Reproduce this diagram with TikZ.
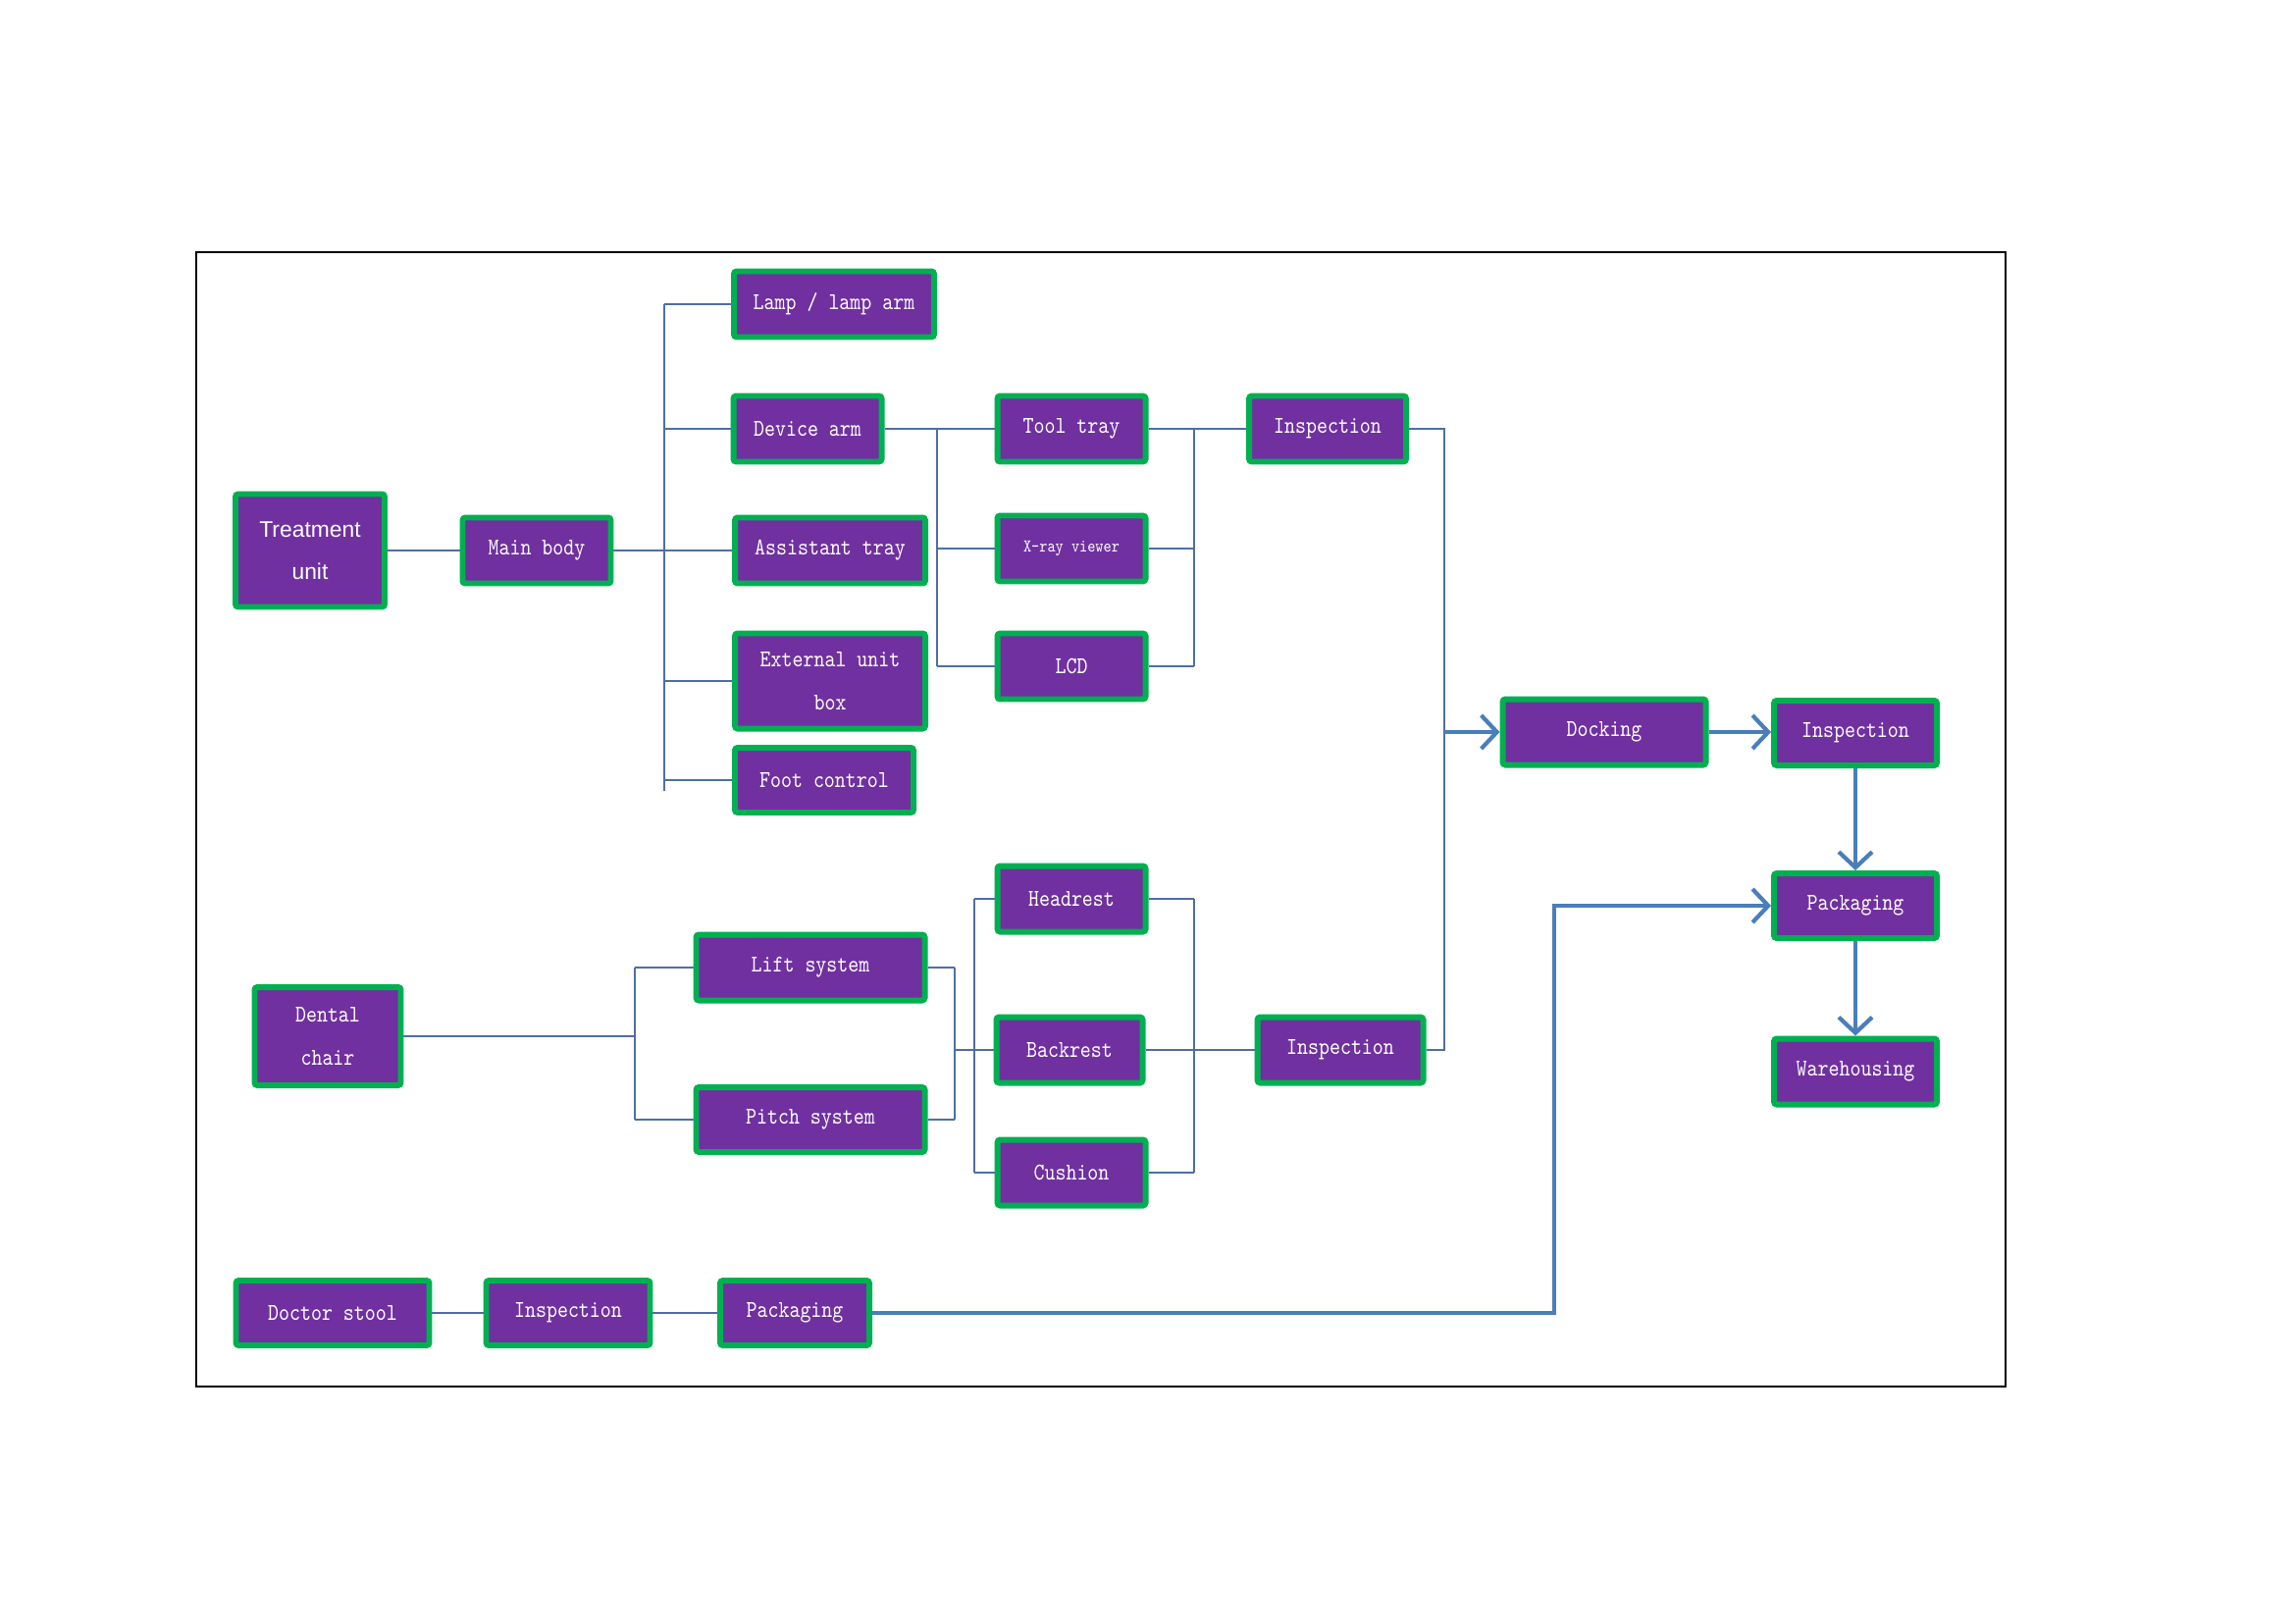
\documentclass[tikz,border=0pt]{standalone}
\usepackage{fontspec}
\newfontfamily\boxfont[FakeStretch=0.85]{lmmono10-regular.otf}
\newfontfamily\sansbox{Liberation Sans}
\usetikzlibrary{arrows.meta}
\definecolor{boxpurple}{RGB}{112,48,160}
\definecolor{boxgreen}{RGB}{0,176,80}
\definecolor{linkblue}{RGB}{79,110,165}
\definecolor{flowblue}{RGB}{74,126,187}

\begin{document}
\begin{tikzpicture}[
  box/.style={draw=boxgreen, fill=boxpurple, line width=1.7pt, rounded corners=0.8pt, text=white, inner sep=0pt, align=center, minimum width=1.51cm, minimum height=0.67cm, font=\boxfont\fontsize{7}{12.3}\selectfont},
  sz/.style 2 args={minimum width=#1cm, minimum height=#2cm},
  link/.style={draw=linkblue, line width=0.6pt},
  flow/.style={draw=flowblue, line width=1.2pt, -{Straight Barb[length=1.6mm, width=3.4mm]}}
]
\useasboundingbox (0,0) rectangle (23.39,-16.54);
\draw[line width=0.4pt] (2.00,-2.57) rectangle (20.44,-14.13);

\node[box, sz={1.52}{1.15}, font=\sansbox\fontsize{6.5}{12.3}\selectfont] (treat) at (3.16,-5.61) {Treatment\\unit};
\node[box] (main) at (5.47,-5.61) {Main body};
\node[box, sz={2.04}{0.67}] (lamp) at (8.50,-3.10) {Lamp / lamp arm};
\node[box] (devarm) at (8.23,-4.37) {Device arm};
\node[box, sz={1.94}{0.67}] (asst) at (8.46,-5.61) {Assistant tray};
\node[box, sz={1.94}{0.97}] (extbox) at (8.46,-6.94) {External unit\\box};
\node[box, sz={1.82}{0.66}] (foot) at (8.40,-7.95) {Foot control};
\node[box] (tool) at (10.92,-4.37) {Tool tray};
\node[box, font=\boxfont\fontsize{5.2}{6}\selectfont] (xray) at (10.92,-5.59) {X-ray viewer};
\node[box] (lcd) at (10.92,-6.79) {LCD};
\node[box, sz={1.60}{0.67}] (insp1) at (13.53,-4.37) {Inspection};
\node[box, sz={2.07}{0.67}] (dock) at (16.35,-7.46) {Docking};
\node[box, sz={1.66}{0.66}] (insp2) at (18.91,-7.47) {Inspection};
\node[box, sz={1.66}{0.66}] (pack2) at (18.91,-9.23) {Packaging};
\node[box, sz={1.66}{0.67}] (ware) at (18.91,-10.92) {Warehousing};

\node[box, sz={1.49}{1.00}] (chair) at (3.34,-10.56) {Dental\\chair};
\node[box, sz={2.33}{0.67}] (lift) at (8.26,-9.86) {Lift system};
\node[box, sz={2.33}{0.66}] (pitch) at (8.26,-11.41) {Pitch system};
\node[box] (head) at (10.92,-9.16) {Headrest};
\node[box, sz={1.49}{0.67}] (back) at (10.90,-10.70) {Backrest};
\node[box] (cush) at (10.92,-11.95) {Cushion};
\node[box, sz={1.69}{0.67}] (insp3) at (13.66,-10.70) {Inspection};

\node[box, sz={1.97}{0.66}] (stool) at (3.39,-13.38) {Doctor stool};
\node[box, sz={1.67}{0.66}] (insp4) at (5.79,-13.38) {Inspection};
\node[box, sz={1.52}{0.66}] (pack1) at (8.10,-13.38) {Packaging};

\coordinate (trunk) at (6.77,-5.61);
\coordinate (trunkend) at (6.77,-8.06);
\draw[link] (treat.east) -- (main.west);
\draw[link] (main.east) -- (trunk);
\draw[link] (trunk |- lamp.west) -- (trunkend);
\foreach \n in {lamp,devarm,asst,extbox,foot} \draw[link] (trunk |- \n.west) -- (\n.west);

\coordinate (dbus) at (9.55,-4.37);
\draw[link] (devarm.east) -- (tool.west);
\draw[link] (dbus) -- (dbus |- lcd.west);
\foreach \n in {xray,lcd} \draw[link] (dbus |- \n.west) -- (\n.west);

\coordinate (tbus) at (12.17,-4.37);
\foreach \n in {tool,xray,lcd} \draw[link] (\n.east) -- (tbus |- \n.east);
\draw[link] (tbus) -- (tbus |- lcd.east);
\draw[link] (tbus) -- (insp1.west);

\coordinate (join) at (14.72,-7.46);
\draw[link] (insp1.east) -| (join |- insp3.east) -- (insp3.east);
\draw[flow] (join) -- (dock.west);
\draw[flow] (dock.east) -- (dock.east -| insp2.west);
\draw[flow] (insp2.south) -- (pack2.north);
\draw[flow] (pack2.south) -- (ware.north);

\coordinate (cbus) at (6.47,-10.56);
\draw[link] (chair.east) -- (cbus);
\draw[link] (cbus |- lift.west) -- (cbus |- pitch.west);
\foreach \n in {lift,pitch} \draw[link] (cbus |- \n.west) -- (\n.west);
\coordinate (lbus) at (9.73,-10.70);
\foreach \n in {lift,pitch} \draw[link] (\n.east) -- (lbus |- \n.east);
\draw[link] (lbus |- lift.east) -- (lbus |- pitch.east);
\draw[link] (lbus) -- (back.west);
\coordinate (hbus) at (9.93,-10.70);
\draw[link] (hbus |- head.west) -- (hbus |- cush.west);
\foreach \n in {head,cush} \draw[link] (hbus |- \n.west) -- (\n.west);
\coordinate (sbus) at (12.17,-10.70);
\foreach \n in {head,back,cush} \draw[link] (\n.east) -- (sbus |- \n.east);
\draw[link] (sbus |- head.east) -- (sbus |- cush.east);
\draw[link] (sbus) -- (insp3.west);

\draw[link] (stool.east) -- (insp4.west);
\draw[link] (insp4.east) -- (pack1.west);
\coordinate (corner) at (15.84,-9.23);
\draw[flow] (pack1.east) -| (corner) -- (pack2.west);
\end{tikzpicture}
\end{document}
